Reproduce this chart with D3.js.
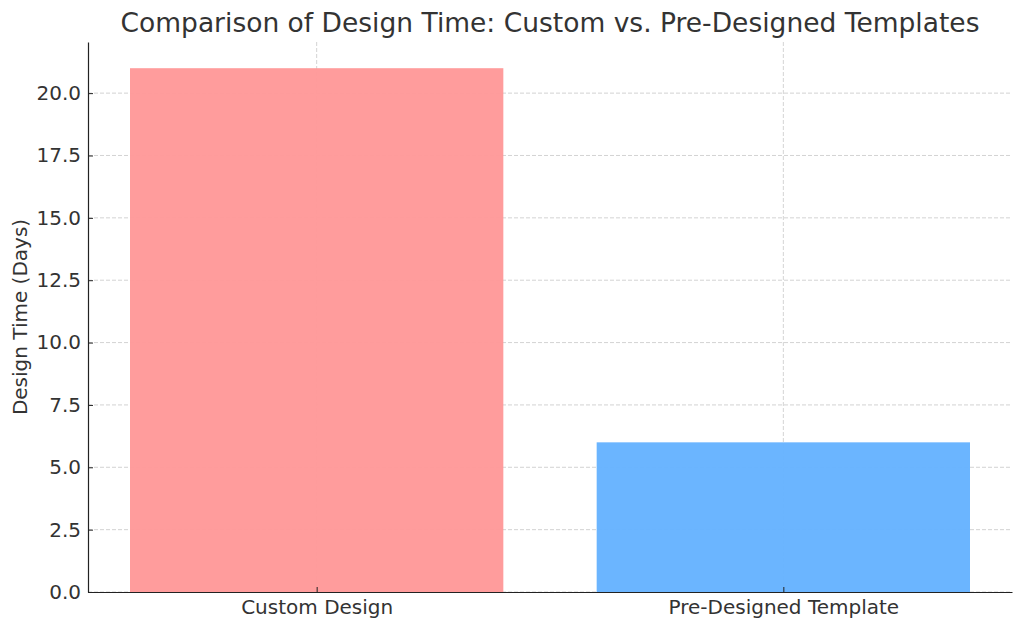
<!DOCTYPE html>
<html>
<head>
<meta charset="utf-8">
<script src="https://cdn.jsdelivr.net/npm/d3@7"></script>
<style>
  body { margin: 0; background: #fff; }
  text { font-family: "DejaVu Sans", sans-serif; fill: #333; }
</style>
</head>
<body>
<div class="canvas"></div>
<script>
// Chart data
const categories = ['Custom Design', 'Pre-Designed Template']
const designDays = [21, 6]
const barColors = ['#ff9999', '#66b3ff']
const yTicks = [0, 2.5, 5, 7.5, 10, 12.5, 15, 17.5, 20]

const width = 1024
const height = 630
const margin = {top: 42, right: 12, bottom: 38, left: 88}
const graphWidth = width - margin.left - margin.right
const graphHeight = height - margin.top - margin.bottom

const svg = d3.select('.canvas')
  .append('svg')
    .attr('width', width)
    .attr('height', height)

const group = svg.append('g')
  .attr('transform', `translate(${margin.left},${margin.top})`)

// matplotlib-like x limits: bars at 0,1 width 0.8, 5% margins
const x = d3.scaleLinear()
  .domain([-0.49, 1.49])
  .range([0, graphWidth])

const y = d3.scaleLinear()
  .domain([0, d3.max(designDays) * 1.05])
  .range([graphHeight, 0])

// grid
group.append('g')
  .selectAll('line')
  .data(yTicks)
  .enter()
  .append('line')
    .attr('x1', 0)
    .attr('x2', graphWidth)
    .attr('y1', d => y(d))
    .attr('y2', d => y(d))
    .attr('stroke', '#c8c8c8')
    .attr('stroke-width', 0.8)
    .attr('stroke-dasharray', '4,2')

group.append('g')
  .selectAll('line')
  .data(categories)
  .enter()
  .append('line')
    .attr('x1', (d, i) => x(i))
    .attr('x2', (d, i) => x(i))
    .attr('y1', 0)
    .attr('y2', graphHeight)
    .attr('stroke', '#c8c8c8')
    .attr('stroke-width', 0.8)
    .attr('stroke-dasharray', '4,2')

// bars
group.selectAll('rect')
  .data(designDays)
  .enter()
  .append('rect')
    .attr('x', (d, i) => x(i - 0.4))
    .attr('width', x(0.8) - x(0))
    .attr('y', d => y(d))
    .attr('height', d => y(0) - y(d))
    .attr('fill', (d, i) => barColors[i])
    .attr('fill-opacity', 0.97)

// axes
const yAxis = d3.axisLeft(y)
  .tickValues(yTicks)
  .tickFormat(d3.format('.1f'))
  .tickSizeInner(-5)
  .tickSizeOuter(0)
  .tickPadding(7)

const xAxis = d3.axisBottom(x)
  .tickValues([0, 1])
  .tickFormat((d, i) => categories[i])
  .tickSizeInner(-5)
  .tickSizeOuter(0)
  .tickPadding(8)

const gy = group.append('g').call(yAxis)
const gx = group.append('g')
  .attr('transform', `translate(0,${graphHeight})`)
  .call(xAxis)

;[gx, gy].forEach(g => {
  g.select('.domain').attr('stroke', '#222').attr('stroke-width', 1.2)
  g.selectAll('.tick line').attr('stroke', '#222').attr('stroke-width', 1)
  g.selectAll('.tick text')
    .attr('font-size', 20)
    .attr('font-family', '"DejaVu Sans", sans-serif')
    .attr('fill', '#262626')
})

// title and label
svg.append('text')
  .attr('x', margin.left + graphWidth / 2)
  .attr('y', 32)
  .attr('text-anchor', 'middle')
  .attr('font-size', 26.5)
  .attr('fill', '#404040')
  .text('Comparison of Design Time: Custom vs. Pre-Designed Templates')

svg.append('text')
  .attr('transform', `translate(27,${margin.top + graphHeight / 2}) rotate(-90)`)
  .attr('text-anchor', 'middle')
  .attr('font-size', 20)
  .attr('fill', '#262626')
  .text('Design Time (Days)')
</script>
</body>
</html>
